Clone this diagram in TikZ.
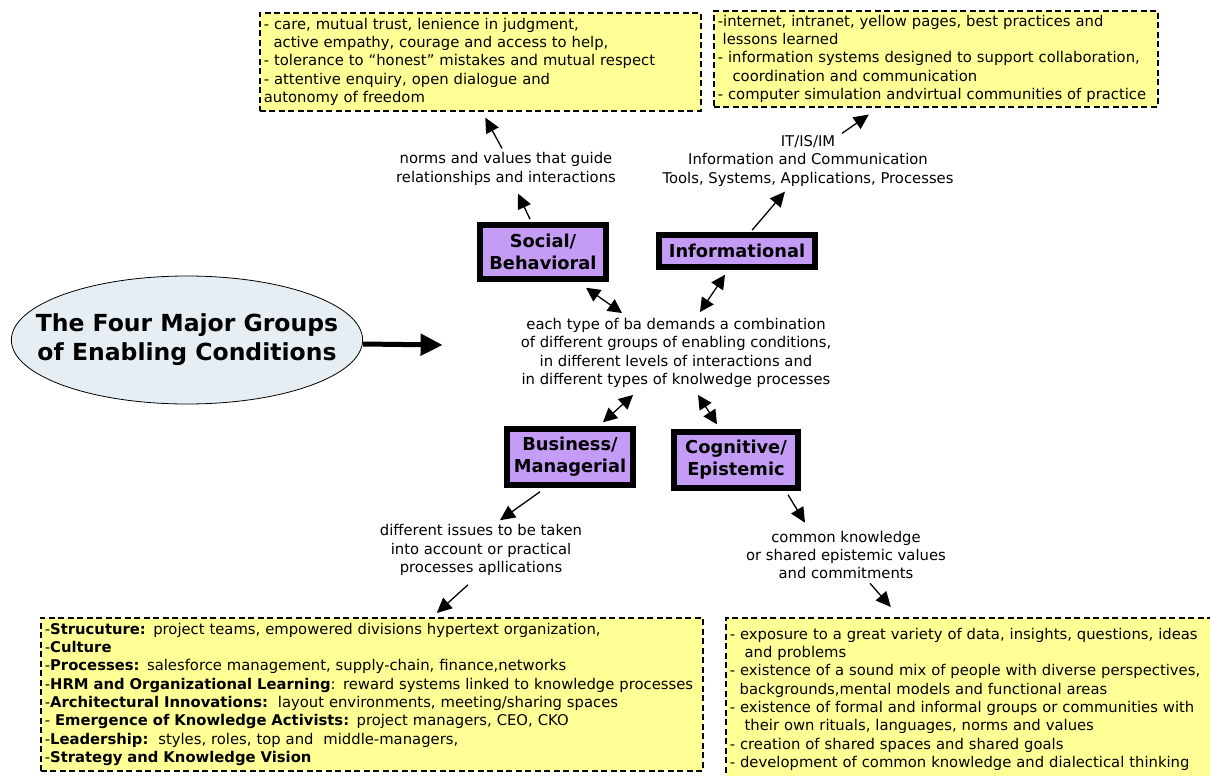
\documentclass[tikz,border=0pt]{standalone}
\usepackage{fontspec}
\setmainfont{DejaVu Sans}
\usetikzlibrary{arrows.meta,positioning,shapes.geometric}
\definecolor{noteyellow}{RGB}{255,255,150}
\definecolor{grouppurple}{RGB}{196,156,246}
\definecolor{goalblue}{RGB}{230,238,244}
\tikzset{
  notebox/.style={draw, dash pattern=on 6pt off 3.5pt, line width=1.6pt, fill=noteyellow,
    align=left, anchor=north west, inner sep=4pt, font=\fontsize{14.8}{18.3}\selectfont},
  groupbox/.style={draw, line width=5.5pt, fill=grouppurple, align=center, inner sep=2pt,
    font=\bfseries\fontsize{17.8}{22}\selectfont},
  lbl/.style={align=center, inner sep=2pt, font=\fontsize{14.8}{18.4}\selectfont},
  arr/.style={-{Triangle[length=15pt,width=14pt]}, line width=1.3pt},
  darr/.style={{Triangle[length=14pt,width=14pt]}-{Triangle[length=14pt,width=14pt]}, line width=1.3pt}
}
\begin{document}
\begin{tikzpicture}[x=1pt,y=-1pt]
\useasboundingbox (0,0) rectangle (1210,776);

% notes
\node[notebox, text width=433pt, minimum height=98pt] (social notes) at (259,12)
  {- care, mutual trust, lenience in judgment,\\
   \ \ active empathy, courage and access to help,\\
   - tolerance to “honest” mistakes and mutual respect\\
   - attentive enquiry, open dialogue and\\
   autonomy of freedom};
\node[notebox, text width=436pt, minimum height=96pt] (info notes) at (713,10)
  {-internet, intranet, yellow pages, best practices and\\
   \ lessons learned\\
   - information systems designed to support collaboration,\\
   \ \ \ coordination and communication\\
   - computer simulation andvirtual communities of practice};
\node[notebox, text width=654pt, minimum height=153pt] (bus notes) at (40,617)
  {-\textbf{Strucuture:} project teams, empowered divisions hypertext organization,\\
   -\textbf{Culture}\\
   -\textbf{Processes:} salesforce management, supply-chain, finance,networks\\
   -\textbf{HRM and Organizational Learning}: reward systems linked to knowledge processes\\
   -\textbf{Architectural Innovations:}\ \ layout environments, meeting/sharing spaces\\
   - \textbf{Emergence of Knowledge Activists:} project managers, CEO, CKO\\
   -\textbf{Leadership:}\ \ styles, roles, top and\ \ middle-managers,\\
   -\textbf{Strategy and Knowledge Vision}};
\node[notebox, text width=482pt, minimum height=163pt] (cog notes) at (725,617)
  {- exposure to a great variety of data, insights, questions, ideas\\
   \ \ \ and problems\\
   - existence of a sound mix of people with diverse perspectives,\\
   \ \ backgrounds,mental models and functional areas\\
   - existence of formal and informal groups or communities with\\
   \ \ \ their own rituals, languages, norms and values\\
   - creation of shared spaces and shared goals\\
   - development of common knowledge and dialectical thinking};

% title and centre
\node[ellipse, draw, line width=0.8pt, fill=goalblue, minimum width=350pt, minimum height=128pt,
  inner xsep=-27pt, align=center, font=\bfseries\fontsize{23.5}{29}\selectfont] (goal) at (187,340)
  {The Four Major Groups\\of Enabling Conditions};
\node[lbl] (centre) at (676,353)
  {each type of ba demands a combination\\
   of different groups of enabling conditions,\\
   in different levels of interactions and\\
   in different types of knolwedge processes};

% groups
\node[groupbox, minimum width=126pt, minimum height=54pt] (social) at (543,252) {Social/\\Behavioral};
\node[groupbox, minimum width=156pt, minimum height=32pt] (info) at (737,251) {Informational};
\node[groupbox, minimum width=126pt, minimum height=56pt] (bus) at (570,457) {Business/\\Managerial};
\node[groupbox, minimum width=124pt, minimum height=56pt] (cog) at (736,460) {Cognitive/\\Epistemic};

% labels
\node[lbl] (norms) at (506,169) {norms and values that guide\\relationships and interactions};
\node[lbl] (ict) at (808,161) {IT/IS/IM\\Information and Communication\\Tools, Systems, Applications, Processes};
\node[lbl] (issues) at (481,550) {different issues to be taken\\into account or practical\\processes apllications};
\node[lbl] (common) at (846,555) {common knowledge\\or shared epistemic values\\and commitments};

% connectors
\draw[-{Triangle[length=22pt,width=21pt]}, line width=5pt] ([yshift=-4pt]goal.east) -- ([xshift=-76pt,yshift=8pt]centre.west);
\draw[darr] ([xshift=43pt,yshift=-6pt]social.south) -- ([xshift=-54pt,yshift=3pt]centre.north);
\draw[darr] ([xshift=-12pt,yshift=-5pt]info.south) -- ([xshift=24pt,yshift=4pt]centre.north);
\draw[darr] ([xshift=-43pt,yshift=-5pt]centre.south) -- ([xshift=33pt,yshift=4pt]bus.north);
\draw[darr] ([xshift=22pt,yshift=-5pt]centre.south) -- ([xshift=-19pt,yshift=5pt]cog.north);

\draw[arr] ([xshift=-13pt,yshift=3pt]social.north) -- ([xshift=12pt,yshift=-6pt]norms.south);
\draw[arr] ([xshift=-4pt,yshift=2pt]norms.north) -- ([xshift=5pt,yshift=-6pt]social notes.south);
\draw[arr] ([xshift=15pt,yshift=2pt]info.north) -- ([xshift=-23pt,yshift=-3pt]ict.south);
\draw[arr] ([xshift=34pt]ict.north) -- ([xshift=-67pt,yshift=-7pt]info notes.south);
\draw[arr] ([xshift=-30pt,yshift=-4pt]bus.south) -- ([xshift=19pt,yshift=2pt]issues.north);
\draw[arr] ([xshift=-13pt,yshift=-7pt]issues.south) -- ([xshift=65pt,yshift=4pt]bus notes.north);
\draw[arr] ([xshift=52pt,yshift=-4pt]cog.south) -- ([xshift=-41pt,yshift=6pt]common.north);
\draw[arr] ([xshift=24pt,yshift=-2pt]common.south) -- ([xshift=-80pt,yshift=10pt]cog notes.north);
\end{tikzpicture}
\end{document}
